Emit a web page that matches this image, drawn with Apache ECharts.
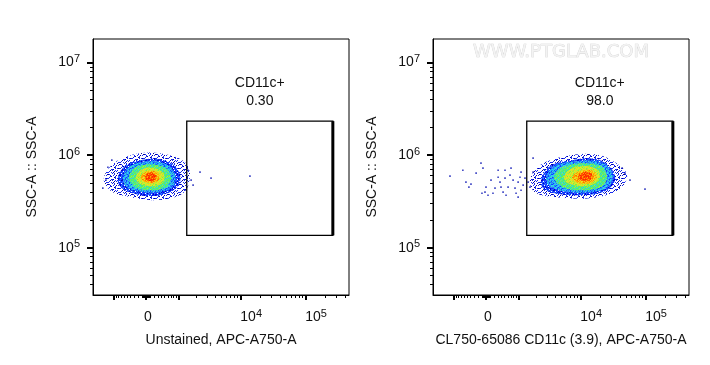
<!DOCTYPE html>
<html><head><meta charset="utf-8">
<script src="https://cdn.jsdelivr.net/npm/echarts@6/dist/echarts.min.js"></script>
<style>html,body{margin:0;padding:0;background:#fff}#c{width:710px;height:365px}</style>
</head><body><div id="c"></div>
<script>
// ---------------- data ----------------
const panelTitles = ['Unstained, APC-A750-A', 'CL750-65086 CD11c (3.9), APC-A750-A'];
const yTitle = 'SSC-A :: SSC-A';
const gateName = 'CD11c+';
const gatePercents = ['0.30', '98.0'];
const gateX = [1400, 262143];          // APC-A750-A
const gateY = [136000, 2330000];       // SSC-A
const xRange = [-2234, 464660];
const yRange = [30800, 18000000];
const xMajorTicks = [-1000, 0, 1000, 10000, 100000];
const xMinorTicks = [-900, -800, -700, -600, -500, -400, -300, -200, -100, -90, -80, -70, -60, -50, -40, -30, -20, -10,
  10, 20, 30, 40, 50, 60, 70, 80, 90, 100, 200, 300, 400, 500, 600, 700, 800, 900,
  2000, 3000, 4000, 5000, 6000, 7000, 8000, 9000, 20000, 30000, 40000, 50000, 60000, 70000, 80000, 90000,
  200000, 300000, 400000];
const xTickLabels = [0, 10000, 100000];
const yMajorTicks = [100000, 1000000, 10000000];
const yMinorTicks = [40000, 50000, 60000, 70000, 80000, 90000,
  200000, 300000, 400000, 500000, 600000, 700000, 800000, 900000,
  2000000, 3000000, 4000000, 5000000, 6000000, 7000000, 8000000, 9000000];
const yTickLabels = [100000, 1000000, 10000000];

// density contours [APC-A750-A, SSC-A]; level 1 = sparse edge ... level 7 = peak
const unstainedL1 = [[-1480,564000],[-933,840000],[-150,1050000],[508,1025000],[1305,840000],[1590,593000],[1210,388000],[227,326000],[-570,361000],[-1155,418000]];
const unstainedL2 = [[-817,578000],[-540,779000],[0,905000],[572,861000],[978,688000],[1062,511000],[669,398000],[100,361000],[-448,398000],[-740,462000]];
const unstainedL3 = [[-638,578000],[-418,760000],[25,861000],[540,799000],[853,623000],[779,462000],[281,398000],[-202,408000],[-540,462000]];
const unstainedL4 = [[-448,578000],[-254,741000],[125,799000],[540,724000],[706,564000],[540,451000],[100,418000],[-280,451000]];
const unstainedL5 = [[-254,578000],[-100,705000],[227,724000],[479,623000],[420,498000],[100,462000],[-176,498000]];
const unstainedL6 = [[-125,593000],[25,671000],[281,655000],[362,564000],[176,498000],[-75,524000]];
const unstainedL7 = [[-25,593000],[100,655000],[254,608000],[227,537000],[50,524000]];
const unstainedSingles = [[1480,688000],[1660,537000],[1790,474000],[2320,655000],[3470,564000],[-1260,741000],
  [-1540,440000],[13900,593000],[-1360,537000],[-1070,883000],[1360,418000]];

const stainedL1 = [[1590,537000],[2320,779000],[5730,975000],[16600,1025000],[33800,840000],[51900,608000],[37700,418000],[13900,343000],[4000,352000],[1920,398000]];
const stainedL2 = [[2410,537000],[3340,760000],[7110,883000],[17900,905000],[29400,724000],[33800,537000],[23700,408000],[9770,369000],[4000,388000],[2600,440000]];
const stainedL3 = [[2900,564000],[3870,760000],[8500,861000],[19850,840000],[30500,655000],[27400,462000],[13900,398000],[5350,408000],[3340,462000]];
const stainedL4 = [[3870,578000],[5160,741000],[10500,819000],[20600,760000],[25500,593000],[21400,462000],[11300,418000],[5350,451000]];
const stainedL5 = [[5540,578000],[6840,705000],[12560,760000],[19200,671000],[18560,524000],[11660,462000],[6400,498000]];
const stainedL6 = [[7380,578000],[9450,671000],[15000,688000],[17900,593000],[13900,498000],[8500,511000]];
const stainedL7 = [[9130,593000],[11280,655000],[15000,623000],[13900,537000],[10150,537000]];
const stainedSingles = [[-1155,593000],[-640,688000],[-540,511000],[-450,451000],[-250,639000],[-125,819000],[-75,724000],
  [-390,486000],[-100,388000],[-25,398000],[0,451000],[50,369000],[125,537000],[175,388000],[227,440000],[310,688000],
  [310,578000],[362,511000],[390,451000],[450,398000],[508,688000],[508,564000],[540,369000],[605,451000],[669,608000],
  [705,724000],[780,537000],[853,440000],[895,388000],[980,511000],[1062,578000],[1110,655000],[1110,418000],[1210,474000],
  [1305,564000],[1480,511000],[1590,451000],[1790,655000],[980,352000],[1790,928000],[48150,639000],[97750,429000],
  [57470,537000],[43500,724000]];

const contours = [
  [unstainedL1, unstainedL2, unstainedL3, unstainedL4, unstainedL5, unstainedL6, unstainedL7],
  [stainedL1, stainedL2, stainedL3, stainedL4, stainedL5, stainedL6, stainedL7]
];
const singles = [unstainedSingles, stainedSingles];

// ---------------- scales (biexponential x, log y) ----------------
const BIEX_W = 700;
function tx(v) { return Math.asinh(v / BIEX_W) / Math.LN10; }
function ty(v) { return Math.log10(v); }

// ---------------- styling ----------------
const FONT = '"Liberation Sans", Arial, sans-serif';
const noiseTile = [
  "370514928163", "825936041759", "146280375912", "593718264083", "028465193750",
  "761392850427", "482057619348", "915643027586", "234879516201", "657120843975"];
const levelPalettes = [
  ['#00009c','#1428e6','#1a2cff',null,null,null,null,null,null,null],
  ['#0000e0','#1030ff','#1030ff','#1a3cff','#1a3cff','#2050ff','#2a6cff','#0000c0','#3080ff',null],
  ['#1a3cff','#2a6cff','#2090ff','#2090ff','#20b8f8','#20b8f8','#30d0f0','#30d0f0','#40e0c0','#1a3cff'],
  ['#30c8f0','#40e0c0','#40e890','#40e890','#50f070','#50f070','#70f050','#70f050','#a0f040','#40e0c0'],
  ['#70f050','#a0f040','#c8f030','#c8f030','#e8e820','#e8e820','#f0d020','#a0f040','#f0d020','#c8f030'],
  ['#e8e820','#f0d020','#ffb000','#ffb000','#ff9000','#ff9000','#e8e820','#ff7000','#ffb000','#f0d020'],
  ['#ff9000','#ff6000','#ff4000','#ff4000','#ff2000','#ff6000','#ffb000','#ff3000','#ff4000','#ff2000']
];
function makePattern(pal) {
  const cv = document.createElement('canvas');
  cv.width = 12; cv.height = 10;
  const g = cv.getContext('2d');
  for (let r = 0; r < 10; r++) for (let c = 0; c < 12; c++) {
    const col = pal[+noiseTile[r][c]];
    if (col) { g.fillStyle = col; g.fillRect(c, r, 1, 1); }
  }
  return { image: cv, repeat: 'repeat' };
}
const patterns = levelPalettes.map(makePattern);

const labelRich = {
  z: { fontSize: 14, lineHeight: 18, fontFamily: FONT, color: '#111', padding: [0, 0, 0, 4] },
  b: { fontSize: 14, lineHeight: 18, fontFamily: FONT, color: '#111' },
  bp: { fontSize: 14, lineHeight: 18, fontFamily: FONT, color: '#111', padding: [0, 0, 0, 21] },
  s: { fontSize: 11, lineHeight: 11, fontFamily: FONT, color: '#111', verticalAlign: 'top' }
};
function powLabel(raw, padded) {
  if (raw === 0) return '{z|0}';
  return '{' + (padded ? 'bp' : 'b') + '|10}{s|' + Math.round(Math.log10(raw)) + '}';
}
function findRaw(list, fn, v) {
  let best = list[0], bd = Infinity;
  list.forEach(r => { const d = Math.abs(fn(r) - v); if (d < bd) { bd = d; best = r; } });
  return best;
}

const grids = [], xAxes = [], yAxes = [], series = [];
[93, 433].forEach((left, p) => {
  grids.push({ left: left, top: 39, width: 256, height: 256, show: true, borderColor: '#000', borderWidth: 1, backgroundColor: '#fff' });
  xAxes.push({
    type: 'value', gridIndex: p, position: 'bottom', min: tx(xRange[0]), max: tx(xRange[1]),
    splitLine: { show: false },
    axisLine: { show: true, onZero: false, lineStyle: { color: '#000', width: 1 } },
    axisTick: { show: true, customValues: xMajorTicks.map(tx), length: 5, lineStyle: { color: '#000', width: 2 } },
    axisLabel: { customValues: xTickLabels.map(tx), margin: 13, rich: labelRich,
      formatter: v => powLabel(findRaw(xTickLabels, tx, v), true) },
    name: panelTitles[p], nameLocation: 'middle', nameGap: 38,
    nameTextStyle: { fontSize: 14, fontFamily: FONT, color: '#111' }
  });
  xAxes.push({
    type: 'value', gridIndex: p, position: 'bottom', min: tx(xRange[0]), max: tx(xRange[1]),
    splitLine: { show: false }, axisLine: { show: false, onZero: false },
    axisTick: { show: true, customValues: xMinorTicks.map(tx), length: 3, lineStyle: { color: '#000', width: 1 } },
    axisLabel: { show: false }
  });
  yAxes.push({
    type: 'value', gridIndex: p, position: 'left', min: ty(yRange[0]), max: ty(yRange[1]),
    splitLine: { show: false },
    axisLine: { show: true, onZero: false, lineStyle: { color: '#000', width: 1 } },
    axisTick: { show: true, customValues: yMajorTicks.map(ty), length: 6, lineStyle: { color: '#000', width: 2 } },
    axisLabel: { customValues: yTickLabels.map(ty), margin: 13, rich: labelRich,
      formatter: v => powLabel(findRaw(yTickLabels, ty, v), false) },
    name: yTitle, nameLocation: 'middle', nameGap: 54, nameRotate: 90,
    nameTextStyle: { fontSize: 14, fontFamily: FONT, color: '#111' }
  });
  yAxes.push({
    type: 'value', gridIndex: p, position: 'left', min: ty(yRange[0]), max: ty(yRange[1]),
    splitLine: { show: false }, axisLine: { show: false, onZero: false },
    axisTick: { show: true, customValues: yMinorTicks.map(ty), length: 3, lineStyle: { color: '#000', width: 1 } },
    axisLabel: { show: false }
  });

  // density contours
  series.push({
    type: 'custom', xAxisIndex: 2 * p, yAxisIndex: 2 * p, silent: true, clip: true,
    data: contours[p].map((poly, i) => [tx(poly[0][0]), ty(poly[0][1]), i]),
    renderItem: (params, api) => {
      const lvl = api.value(2);
      const pts = contours[p][lvl].map(q => api.coord([tx(q[0]), ty(q[1])]));
      return { type: 'polygon', shape: { points: pts, smooth: 0.35 }, style: { fill: patterns[lvl], stroke: null } };
    }
  });
  // isolated events
  series.push({
    type: 'scatter', xAxisIndex: 2 * p, yAxisIndex: 2 * p, silent: true,
    symbol: 'rect', symbolSize: 1.6, itemStyle: { color: '#0a14b4' },
    data: singles[p].map(q => [tx(q[0]), ty(q[1])])
  });
  // gate
  series.push({
    type: 'custom', xAxisIndex: 2 * p, yAxisIndex: 2 * p, silent: true, z: 5,
    data: [[tx(gateX[0]), ty(gateY[0]), tx(gateX[1]), ty(gateY[1])]],
    renderItem: (params, api) => {
      const a = api.coord([api.value(0), api.value(1)]);
      const b = api.coord([api.value(2), api.value(3)]);
      const cx = (a[0] + b[0]) / 2;
      return { type: 'group', children: [
        { type: 'rect', shape: { x: a[0], y: b[1], width: b[0] - a[0], height: a[1] - b[1] },
          style: { fill: 'none', stroke: '#000', lineWidth: 1.3 } },
        { type: 'line', shape: { x1: b[0], y1: b[1], x2: b[0], y2: a[1] }, style: { stroke: '#000', lineWidth: 3 } },
        { type: 'text', x: cx, y: b[1] - 38, style: { text: gateName, textAlign: 'center', textVerticalAlign: 'middle', font: '14px ' + FONT, fill: '#111' } },
        { type: 'text', x: cx, y: b[1] - 20, style: { text: gatePercents[p], textAlign: 'center', textVerticalAlign: 'middle', font: '14px ' + FONT, fill: '#111' } }
      ] };
    }
  });
});

const chart = echarts.init(document.getElementById('c'), null, { renderer: 'canvas' });
chart.setOption({
  backgroundColor: '#fff',
  animation: false,
  grid: grids, xAxis: xAxes, yAxis: yAxes, series: series,
  graphic: [{ type: 'text', x: 561, y: 52, silent: true,
    style: { text: 'WWW.PTGLAB.COM', textAlign: 'center', textVerticalAlign: 'middle',
      font: '18px "DejaVu Sans", sans-serif', fill: '#f3f3f3', stroke: '#d2d2d2', lineWidth: 0.7 } }]
});
</script></body></html>
